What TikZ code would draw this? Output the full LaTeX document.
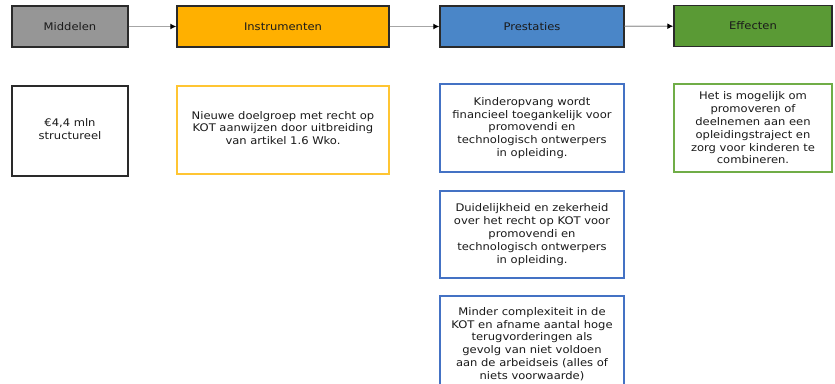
\documentclass[tikz,border=0pt]{standalone}
\usepackage{fontspec}
\setmainfont[FakeStretch=1.1]{DejaVu Sans}
\usetikzlibrary{arrows.meta}
\definecolor{hdrgray}{HTML}{969696}
\definecolor{hdrorange}{HTML}{FFB000}
\definecolor{hdrblue}{HTML}{4A86C8}
\definecolor{hdrgreen}{HTML}{5A9A35}
\definecolor{bdorange}{HTML}{FFC532}
\definecolor{bdblue}{HTML}{4472C4}
\definecolor{bdgreen}{HTML}{70AD47}
\definecolor{darkline}{HTML}{2A2A2A}
\definecolor{txt}{HTML}{1A1A1A}
\tikzset{
  hdr/.style={draw=darkline, line width=1.4pt, minimum height=41pt, inner sep=0pt,
    font=\fontsize{10.5}{12}\selectfont, text=txt},
  cbox/.style={line width=1.3pt, fill=white, inner sep=0pt, align=center,
    font=\fontsize{10.5}{12.8}\selectfont, text=txt},
  ctext/.style={font=\fontsize{10.5}{12.8}\selectfont, text=txt, align=center, inner sep=0pt},
  conn/.style={draw=gray!70, line width=1.2pt, -{Latex[length=6pt,width=6pt,black]}}
}
\begin{document}
\begin{tikzpicture}[x=1pt,y=-1pt]
\clip (0,0) rectangle (835,383);
\fill[white] (0,0) rectangle (835,383);
% header row
\node[hdr, fill=hdrgray, minimum width=116pt] (m) at (70,26.5) {Middelen};
\node[hdr, fill=hdrorange, minimum width=212pt] (i) at (283,26.5) {Instrumenten};
\node[hdr, fill=hdrblue, minimum width=184pt] (p) at (532,26.5) {Prestaties};
\node[hdr, fill=hdrgreen, minimum width=158pt] (e) at (753,26) {Effecten};
\draw[conn] (m) -- (i);
\draw[conn] (i) -- (p);
\draw[conn] (p) -- (e);
% content boxes
\node[cbox, draw=darkline, minimum width=116pt, minimum height=90pt] (m1) at (70,131) {};
\node[ctext] (m1t) at (70,129) {€4,4 mln\\structureel};
\node[cbox, draw=bdorange, minimum width=212pt, minimum height=88pt] (i1) at (283,130) {};
\node[ctext] (i1t) at (283,128) {Nieuwe doelgroep met recht op\\KOT aanwijzen door uitbreiding\\van artikel 1.6 Wko.};
\node[cbox, draw=bdblue, minimum width=184pt, minimum height=88pt] (p1) at (532,128) {Kinderopvang wordt\\financieel toegankelijk voor\\promovendi en\\technologisch ontwerpers\\in opleiding.};
\node[cbox, draw=bdblue, minimum width=184pt, minimum height=87pt] (p2) at (532,234.5) {Duidelijkheid en zekerheid\\over het recht op KOT voor\\promovendi en\\technologisch ontwerpers\\in opleiding.};
\node[cbox, draw=bdblue, minimum width=184pt, minimum height=96pt] (p3) at (532,344) {Minder complexiteit in de\\KOT en afname aantal hoge\\terugvorderingen als\\gevolg van niet voldoen\\aan de arbeidseis (alles of\\niets voorwaarde)};
\node[cbox, draw=bdgreen, minimum width=158pt, minimum height=88pt] (e1) at (753,128) {Het is mogelijk om\\promoveren of\\deelnemen aan een\\opleidingstraject en\\zorg voor kinderen te\\combineren.};
\end{tikzpicture}
\end{document}
